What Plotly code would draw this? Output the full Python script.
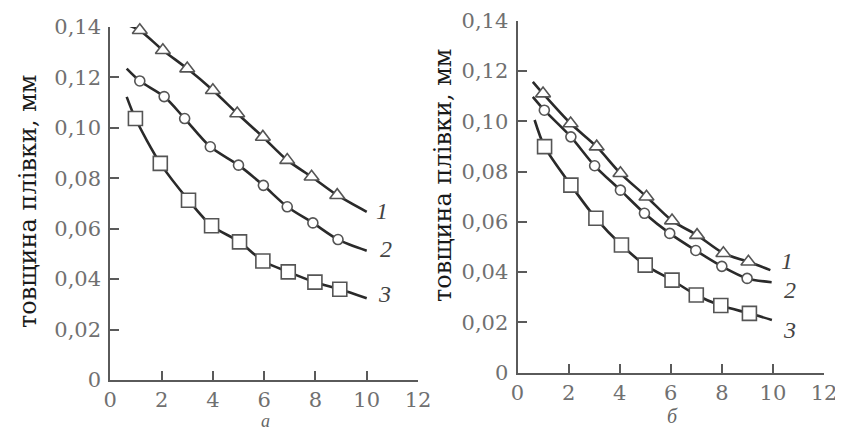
import plotly.graph_objects as go

# ---- data ----
# panel а
a1_x = [1.15, 2.05, 3.0, 4.0, 4.95, 5.95, 6.9, 7.85, 8.85]
a1_y = [0.1387, 0.1308, 0.1235, 0.1149, 0.1057, 0.0964, 0.0872, 0.0806, 0.0733]
a1_start = (0.75, 0.1405)
a1_end = (10.0, 0.0667)

a2_x = [1.15, 2.1, 2.9, 3.9, 5.0, 5.97, 6.9, 7.9, 8.88]
a2_y = [0.1186, 0.1124, 0.1037, 0.0925, 0.0852, 0.0772, 0.0687, 0.0623, 0.0557]
a2_start = (0.64, 0.1235)
a2_end = (10.0, 0.0513)

a3_x = [0.98, 1.95, 3.05, 3.95, 5.04, 5.95, 6.94, 7.98, 8.95]
a3_y = [0.1037, 0.0859, 0.0713, 0.0612, 0.0548, 0.0472, 0.0429, 0.0388, 0.036]
a3_start = (0.64, 0.1123)
a3_end = (10.0, 0.0324)

# panel б
b1_x = [1.0, 2.08, 3.1, 4.03, 5.05, 6.05, 7.03, 8.06, 9.04]
b1_y = [0.111, 0.0991, 0.0899, 0.0793, 0.070, 0.0605, 0.0547, 0.0475, 0.0441]
b1_start = (0.6, 0.1157)
b1_end = (9.9, 0.0408)

b2_x = [1.05, 2.09, 3.02, 4.03, 4.97, 5.96, 6.98, 8.0, 8.99]
b2_y = [0.1044, 0.0938, 0.0823, 0.0726, 0.0634, 0.0554, 0.0486, 0.0423, 0.0375]
b2_start = (0.6, 0.1097)
b2_end = (9.95, 0.036)

b3_x = [1.06, 2.09, 3.07, 4.07, 5.0, 6.05, 7.0, 7.96, 9.08]
b3_y = [0.0899, 0.0746, 0.0614, 0.0508, 0.0428, 0.0368, 0.0309, 0.0267, 0.0236]
b3_start = (0.67, 0.1005)
b3_end = (9.96, 0.021)

curve_labels = ["1", "2", "3"]
label_pos_a = [(10.3, 0.067), (10.45, 0.052), (10.35, 0.034)]
label_pos_b = [(10.25, 0.0445), (10.35, 0.033), (10.3, 0.017)]

x_ticks = [0, 2, 4, 6, 8, 10, 12]
x_ticktext = ["0", "2", "4", "6", "8", "10", "12"]
y_ticks = [0, 0.02, 0.04, 0.06, 0.08, 0.10, 0.12, 0.14]
y_ticktext = ["0", "0,02", "0,04", "0,06", "0,08", "0,10", "0,12", "0,14"]

y_title = "товщина плівки, мм"
panel_labels = ["а", "б"]

# ---- styling ----
LINE = "#2a2a2a"
MARK = "#555555"
AXC = "#5a5a5a"
TICKFONT = dict(family="DejaVu Serif", size=21, color="#707070")
symbols = ["triangle-up", "circle", "square"]
msizes = [13, 10, 14]

# the page body has an 8 px margin: the figure is drawn 8 px right/down of the page origin
OFF = 8
W, H = 843 - OFF, 434 - OFF

def fx(px):
    return (px - OFF) / W

def fy(py):
    return 1 - (py - OFF) / H

fig = go.Figure()

def add_series(xs, ys, start, end, sym, ms, xa, ya):
    fig.add_trace(go.Scatter(
        x=[start[0]] + xs + [end[0]], y=[start[1]] + ys + [end[1]],
        mode="lines", line=dict(color=LINE, width=2.6, shape="spline", smoothing=0.8),
        xaxis=xa, yaxis=ya, showlegend=False, hoverinfo="skip", cliponaxis=False))
    fig.add_trace(go.Scatter(
        x=xs, y=ys, mode="markers", cliponaxis=False,
        marker=dict(symbol=sym, size=ms, color="white",
                    line=dict(color=MARK, width=1.6)),
        xaxis=xa, yaxis=ya, showlegend=False))

series_a = [(a1_x, a1_y, a1_start, a1_end), (a2_x, a2_y, a2_start, a2_end), (a3_x, a3_y, a3_start, a3_end)]
series_b = [(b1_x, b1_y, b1_start, b1_end), (b2_x, b2_y, b2_start, b2_end), (b3_x, b3_y, b3_start, b3_end)]
for i, (xs, ys, s, e) in enumerate(series_a):
    add_series(xs, ys, s, e, symbols[i], msizes[i], "x", "y")
for i, (xs, ys, s, e) in enumerate(series_b):
    add_series(xs, ys, s, e, symbols[i], msizes[i], "x2", "y2")

axis_common = dict(showgrid=False, zeroline=False, showline=True, linecolor=AXC, linewidth=2,
                   ticks="inside", ticklen=9, tickwidth=2, tickcolor=AXC, tickfont=TICKFONT,
                   automargin=False, ticklabeloverflow="allow")

fig.update_layout(
    template="none",
    width=W, height=H, margin=dict(l=0, r=0, t=0, b=0, pad=0), autosize=False,
    paper_bgcolor="white", plot_bgcolor="white", showlegend=False,
    xaxis=dict(domain=[fx(110.3), fx(418)], range=[0, 12], tickvals=x_ticks, ticktext=x_ticktext,
               anchor="y", ticklabelstandoff=0, **axis_common),
    yaxis=dict(domain=[fy(380), fy(27)], range=[0, 0.14], tickvals=y_ticks, ticktext=y_ticktext,
               anchor="x", ticklabelstandoff=3, **axis_common),
    xaxis2=dict(domain=[fx(517.5), fx(824)], range=[0, 12], tickvals=x_ticks, ticktext=x_ticktext,
                anchor="y2", ticklabelstandoff=0, **axis_common),
    yaxis2=dict(domain=[fy(372.7), fy(20.7)], range=[0, 0.14], tickvals=y_ticks, ticktext=y_ticktext,
                anchor="x2", ticklabelstandoff=3, **axis_common),
)

ann = []
lab_font = dict(family="Liberation Serif", size=24, color="#444")
for i, lab in enumerate(curve_labels):
    ann.append(dict(x=label_pos_a[i][0], y=label_pos_a[i][1], xref="x", yref="y", text="<i>" + lab + "</i>",
                    showarrow=False, font=lab_font, xanchor="left", yanchor="middle"))
    ann.append(dict(x=label_pos_b[i][0], y=label_pos_b[i][1], xref="x2", yref="y2", text="<i>" + lab + "</i>",
                    showarrow=False, font=lab_font, xanchor="left", yanchor="middle"))
for lab, (px, py), fs in zip(panel_labels, [(265, 421), (672, 416)], [18, 20]):
    ann.append(dict(x=fx(px), y=fy(py), xref="paper", yref="paper", text="<i>" + lab + "</i>",
                    showarrow=False, font=dict(family="Liberation Serif", size=fs, color="#666"),
                    xanchor="center", yanchor="middle"))
for (px, py) in [(28, 201), (443, 175)]:
    ann.append(dict(x=fx(px), y=fy(py), xref="paper", yref="paper", text=y_title, textangle=-90,
                    showarrow=False, font=dict(family="DejaVu Serif", size=24, color="#1a1a1a"),
                    xanchor="center", yanchor="middle"))
fig.update_layout(annotations=ann)

fig.write_html("out.html")
